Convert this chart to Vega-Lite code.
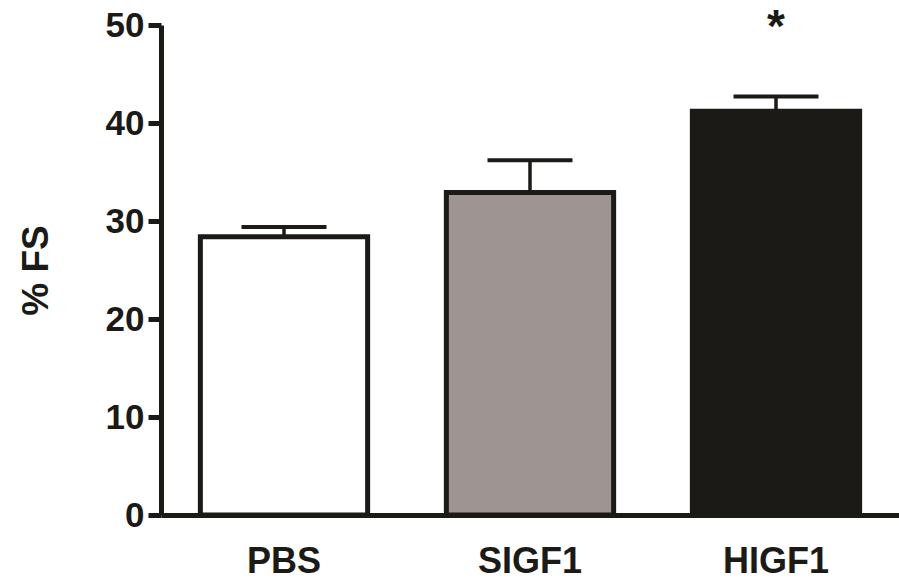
{
  "$schema": "https://vega.github.io/schema/vega-lite/v6.json",
  "width": 738,
  "height": 490,
  "autosize": {"type": "none"},
  "padding": {"left": 161, "top": 25, "right": 0, "bottom": 73},
  "background": "white",
  "config": {
    "view": {"stroke": null},
    "font": "Liberation Sans",
    "axis": {
      "labelFont": "Liberation Sans",
      "titleFont": "Liberation Sans",
      "labelFontWeight": "bold",
      "titleFontWeight": "bold",
      "labelColor": "#1c1a17",
      "titleColor": "#1c1a17",
      "domainColor": "#1c1a17",
      "tickColor": "#1c1a17",
      "grid": false
    }
  },
  "data": {
    "values": [
      {"group": "PBS", "mean": 28.4, "upper": 29.4, "mark": ""},
      {"group": "SIGF1", "mean": 32.9, "upper": 36.2, "mark": ""},
      {"group": "HIGF1", "mean": 41.2, "upper": 42.7, "mark": "*"}
    ]
  },
  "encoding": {
    "x": {
      "field": "group",
      "type": "nominal",
      "sort": ["PBS", "SIGF1", "HIGF1"],
      "scale": {"paddingInner": 0.32, "paddingOuter": 0.16},
      "axis": {
        "title": null,
        "labelAngle": 0,
        "labelFontSize": 36,
        "labelPadding": 29,
        "ticks": false,
        "domainWidth": 5
      }
    }
  },
  "layer": [
    {
      "mark": {"type": "rule", "strokeWidth": 3.5, "color": "#1c1a17"},
      "encoding": {
        "y": {"field": "mean", "type": "quantitative"},
        "y2": {"field": "upper"}
      }
    },
    {
      "mark": {"type": "tick", "size": 85, "thickness": 4, "color": "#1c1a17", "opacity": 1},
      "encoding": {
        "y": {"field": "upper", "type": "quantitative"}
      }
    },
    {
      "mark": {"type": "bar", "stroke": "#1c1a17", "strokeWidth": 5},
      "encoding": {
        "y": {
          "field": "mean",
          "type": "quantitative",
          "scale": {"domain": [0, 50], "nice": false},
          "axis": {
            "title": "% FS",
            "titleFontSize": 37,
            "titlePadding": 50,
            "labelFontSize": 35,
            "labelPadding": 4,
            "tickSize": 13,
            "tickWidth": 5,
            "domainWidth": 5,
            "values": [0, 10, 20, 30, 40, 50]
          }
        },
        "fill": {
          "field": "group",
          "type": "nominal",
          "scale": {"domain": ["PBS", "SIGF1", "HIGF1"], "range": ["#ffffff", "#9e9593", "#1c1a17"]},
          "legend": null
        }
      }
    },
    {
      "mark": {"type": "text", "fontSize": 46, "fontWeight": "bold", "color": "#1c1a17", "baseline": "alphabetic", "dy": -55},
      "encoding": {
        "y": {"field": "upper", "type": "quantitative"},
        "text": {"field": "mark"}
      }
    }
  ]
}
